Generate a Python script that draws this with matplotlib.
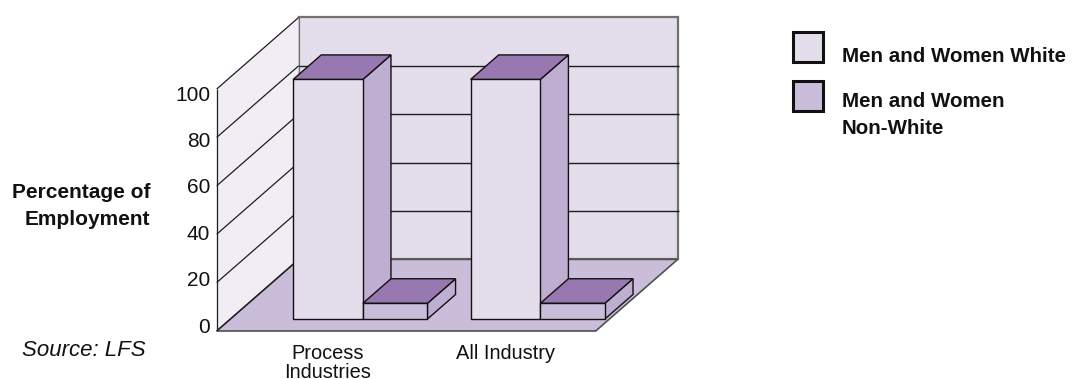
import matplotlib
matplotlib.use("Agg")
import matplotlib.pyplot as plt
from matplotlib.patches import Polygon, Rectangle
from matplotlib.lines import Line2D
import matplotlib.transforms as mtransforms

# ---- data -------------------------------------------------------------
categories = ["Process\nIndustries", "All Industry"]
series_names = ["Men and Women White", "Men and Women\nNon-White"]
white_values = [99.0, 99.0]
nonwhite_values = [6.5, 6.5]
y_ticks = [0, 20, 40, 60, 80, 100]

# ---- styling ----------------------------------------------------------
plt.rcParams['font.family'] = ['Liberation Sans', 'DejaVu Sans']

C_BACK = '#e4ddec'
C_LEFT = '#f1edf5'
C_FLOOR = '#c9bdd9'
C_TOP = '#9878b0'
C_SIDE = '#bfaed1'
C_WHITE = '#e4ddec'
C_NONWHITE = '#c9bdd9'
C_WALL_EDGE = '#707070'

W, H = 1073, 379
fig = plt.figure(figsize=(W / 100, H / 100), dpi=100)
fig.patch.set_facecolor('white')

# oblique projection: depth d in [0, 1] shifts right by DX and up by DY
DX = 0.462          # in category units
DY = 29.6           # in percentage units
X_LEFT, X_RIGHT = -0.550, 1.586   # front edge of floor
Y_MAX = 100
BAR_D0, BAR_D1 = 0.167, 0.51      # depth slab occupied by the bars
W_WHITE, W_NONWHITE = 0.393, 0.364

ax = fig.add_axes([216.7 / W, 1 - 331 / H, 461 / W, 313.6 / H])
ax.set_xlim(X_LEFT, X_RIGHT + DX)
ax.set_ylim(0, Y_MAX + DY)
ax.axis('off')


def proj(x, y, d):
    return (x + d * DX, y + d * DY)


def poly(pts, fc, ec, lw, z):
    ax.add_patch(Polygon([proj(*p) for p in pts], closed=True, facecolor=fc,
                         edgecolor=ec, linewidth=lw, zorder=z,
                         joinstyle='miter', clip_on=False))


def seg(p, q, color, lw, z):
    a, b = proj(*p), proj(*q)
    ax.add_line(Line2D([a[0], b[0]], [a[1], b[1]], color=color, lw=lw,
                       zorder=z, clip_on=False, solid_capstyle='butt'))


# walls and floor
poly([(X_LEFT, 0, 1), (X_RIGHT, 0, 1), (X_RIGHT, Y_MAX, 1), (X_LEFT, Y_MAX, 1)],
     C_BACK, C_WALL_EDGE, 1.6, 1)
poly([(X_LEFT, 0, 0), (X_LEFT, 0, 1), (X_LEFT, Y_MAX, 1), (X_LEFT, Y_MAX, 0)],
     C_LEFT, 'none', 0, 1)
poly([(X_LEFT, 0, 0), (X_RIGHT, 0, 0), (X_RIGHT, 0, 1), (X_LEFT, 0, 1)],
     C_FLOOR, '#505050', 1.2, 2)

# gridlines on back and left walls
for v in y_ticks[1:-1]:
    seg((X_LEFT, v, 1), (X_RIGHT + 0.008, v, 1), '#1e1e1e', 1.0, 1.5)
    seg((X_LEFT, v, 0), (X_LEFT, v, 1), '#1e1e1e', 0.9, 1.5)
seg((X_LEFT, Y_MAX, 0), (X_LEFT, Y_MAX, 1), '#1e1e1e', 0.9, 1.5)
seg((X_LEFT, 0, 0), (X_LEFT, Y_MAX, 0), '#1e1e1e', 0.9, 1.5)
seg((X_LEFT, 0, 0), (X_LEFT, 0, 1), '#1e1e1e', 0.9, 2.5)


def bar3d(x0, x1, h, front, z):
    ek, lw = '#111111', 1.0
    d0, d1 = BAR_D0, BAR_D1
    poly([(x1, 0, d0), (x1, 0, d1), (x1, h, d1), (x1, h, d0)], C_SIDE, ek, lw, z)
    poly([(x0, h, d0), (x1, h, d0), (x1, h, d1), (x0, h, d1)], C_TOP, ek, lw, z)
    poly([(x0, 0, d0), (x1, 0, d0), (x1, h, d0), (x0, h, d0)], front, ek, lw, z)


z = 5
for i, (wv, nv) in enumerate(zip(white_values, nonwhite_values)):
    xa = i - W_WHITE / 2
    xb = i + W_WHITE / 2
    bar3d(xa, xb, wv, C_WHITE, z)
    bar3d(xb, xb + W_NONWHITE, nv, C_NONWHITE, z + 1)
    z += 2

# value axis labels
lab_off = mtransforms.offset_copy(ax.transData, fig=fig, x=-6.5, y=0, units='dots')
for v in y_ticks:
    ax.text(X_LEFT, 1.65 + 0.9587 * v, f"{v}", transform=lab_off,
            ha='right', va='center', fontsize=15, color='#111111')

# category labels under the front of the white bars
cat_off = mtransforms.offset_copy(ax.transData, fig=fig, x=0, y=-13, units='dots')
for i, name in enumerate(categories):
    px, _ = proj(i, 0, BAR_D0)
    ax.text(px, 0, name, transform=cat_off, ha='center', va='top',
            fontsize=14.4, color='#111111', linespacing=1.0)

# axis title and source
fig.text(150 / W, 1 - 206 / H, "Percentage of\nEmployment", ha='right',
         va='center', fontsize=15, fontweight='bold', color='#111111',
         linespacing=1.47)
fig.text(22 / W, 1 - 350 / H, "Source: LFS", ha='left', va='center',
         fontsize=16, style='italic', color='#111111')

# legend
legend_colors = [C_WHITE, C_NONWHITE]
box_tops = [32, 81]
text_centers = [56, 115]
for name, col, bt, tc in zip(series_names, legend_colors, box_tops, text_centers):
    fig.add_artist(Rectangle((792.7 / W, 1 - (bt + 30) / H), 30 / W, 30 / H,
                             transform=fig.transFigure, facecolor=col,
                             edgecolor='#111111', linewidth=2.2))
    fig.text(841.7 / W, 1 - tc / H, name, ha='left', va='center',
             fontsize=14.8, fontweight='bold', color='#111111',
             linespacing=1.47)

fig.savefig('out.png', dpi=100)
